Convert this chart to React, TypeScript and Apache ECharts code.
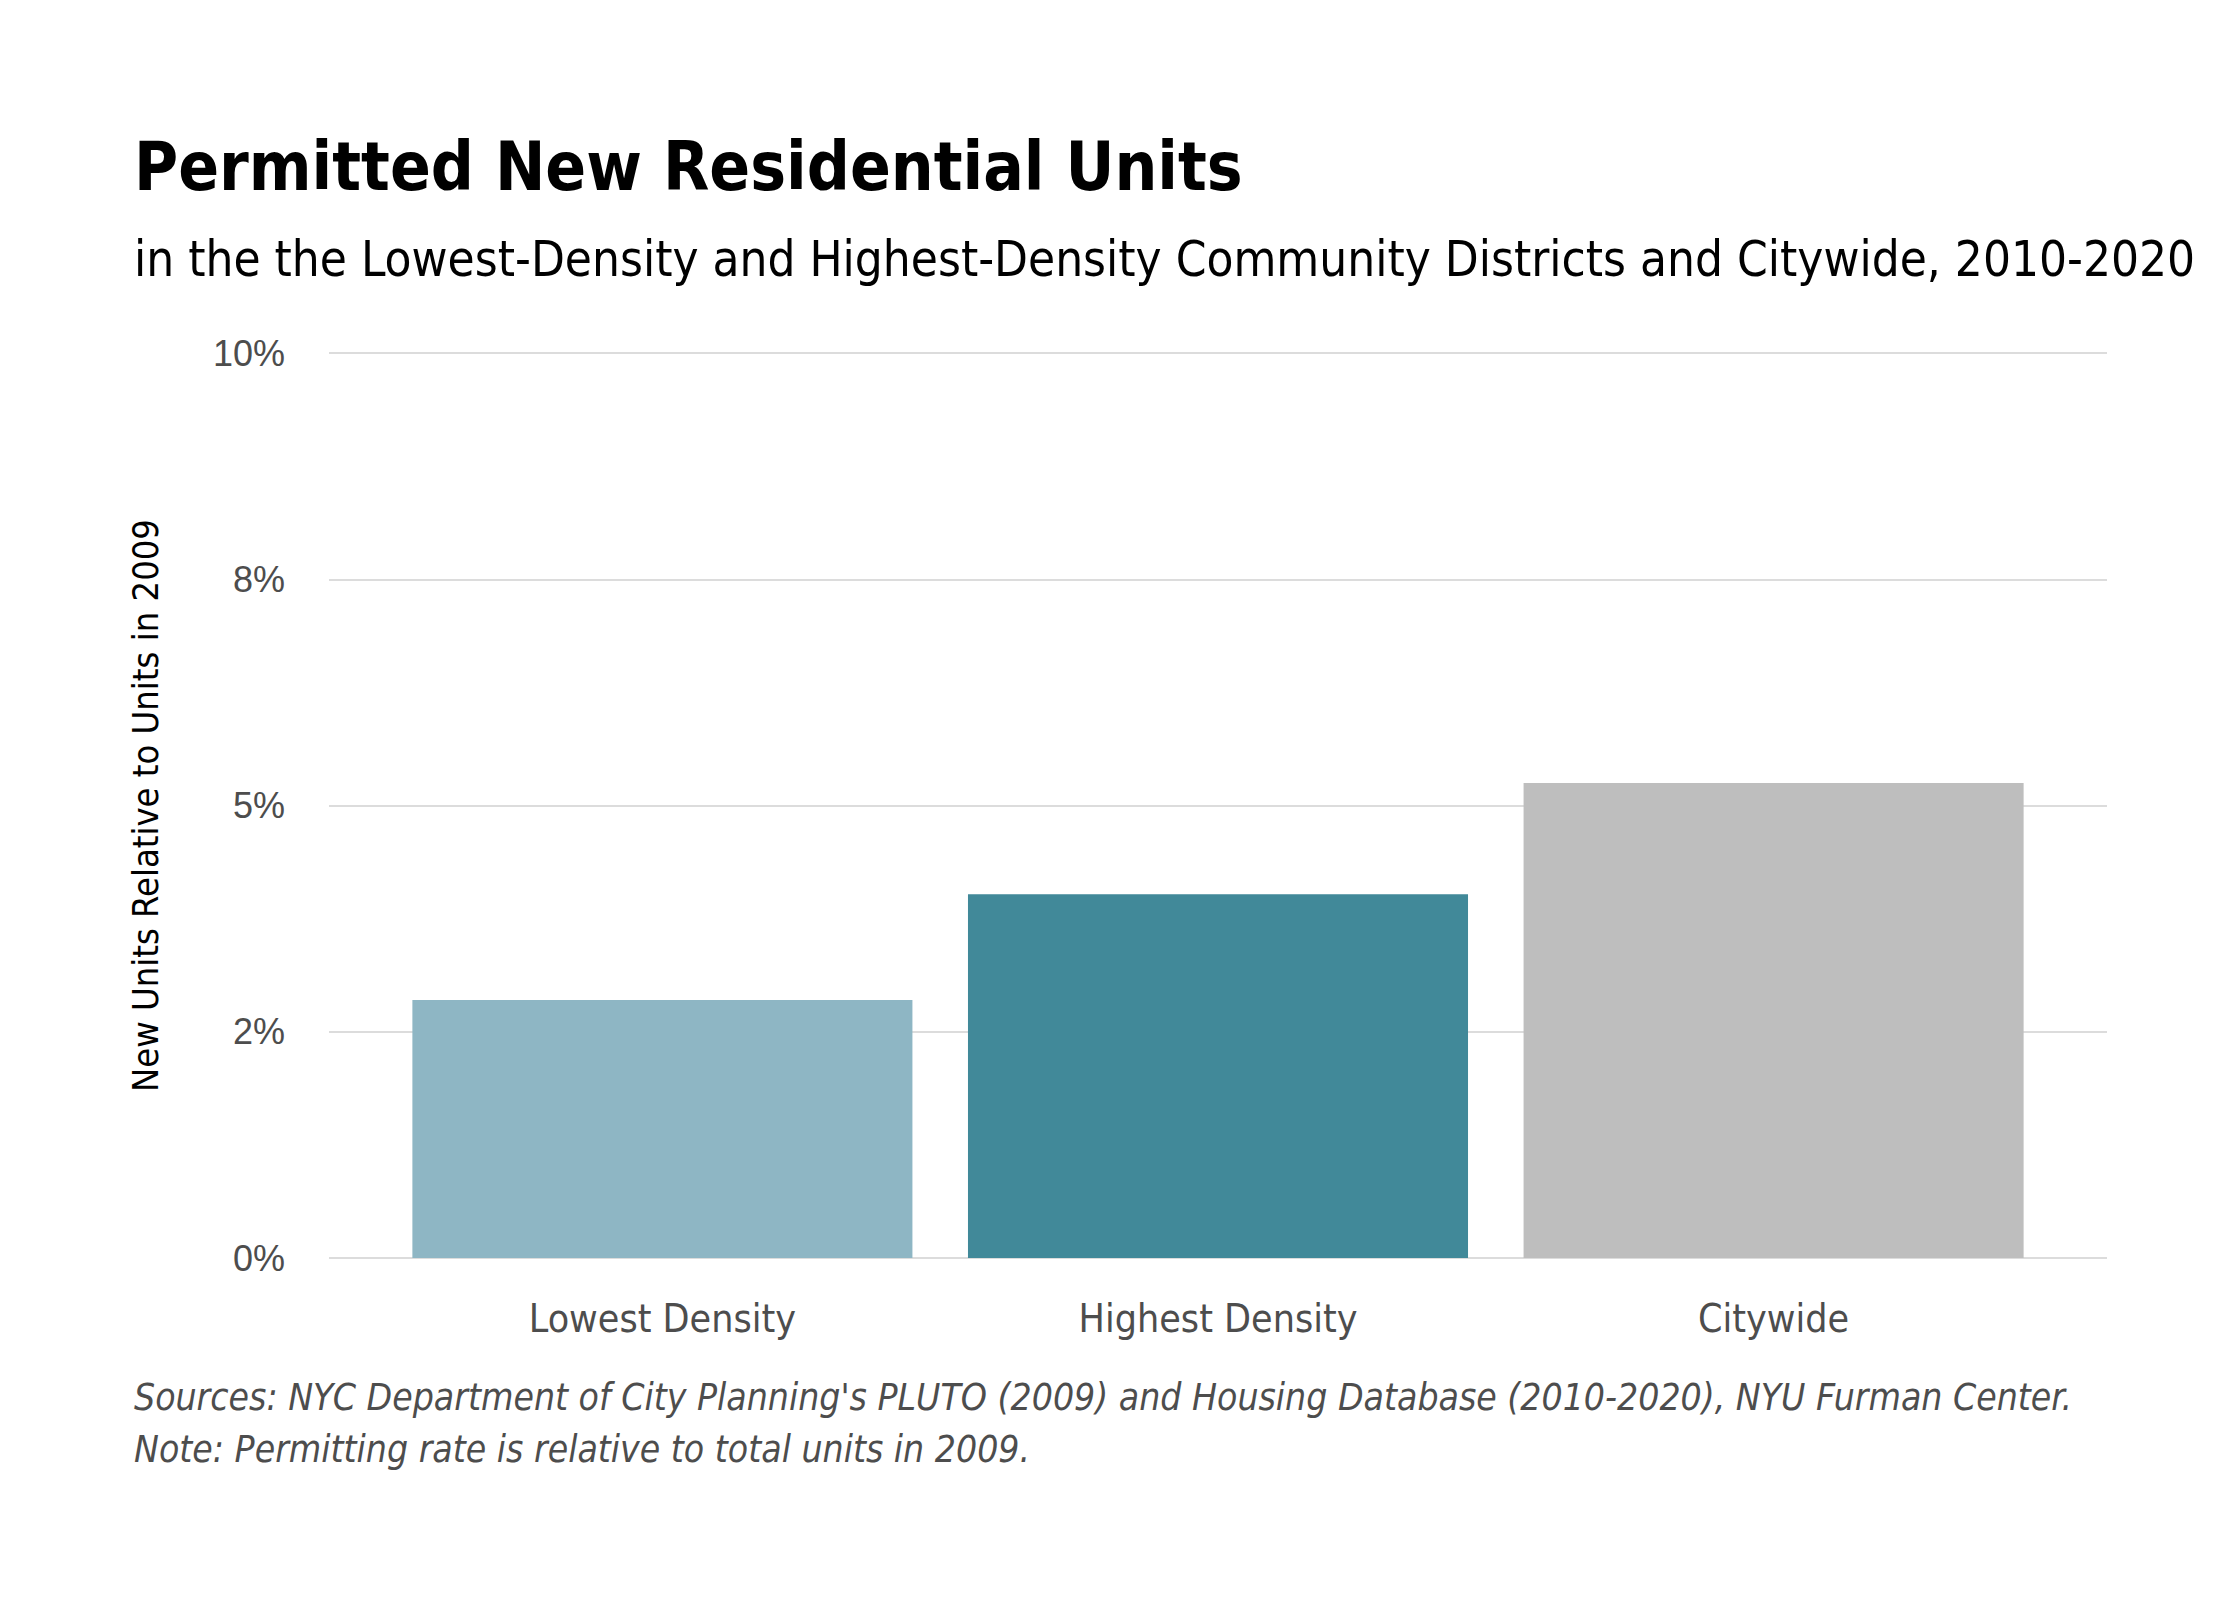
import * as echarts from 'echarts';
import { useEffect, useRef } from 'react';

const categories = ['Lowest Density', 'Highest Density', 'Citywide'];
const values = [2.85, 4.02, 5.25];
const barColors = ['#8eb6c4', '#418999', '#bebebe'];
const tickLabels = ['0%', '2%', '5%', '8%', '10%'];

const NARROW = "'Liberation Sans Narrow', 'DejaVu Sans Condensed', 'Roboto', sans-serif";
const WIDE = "'Liberation Sans', 'Roboto', sans-serif";

export default function App() {
  const chartRef = useRef<HTMLDivElement>(null);

  useEffect(() => {
    if (!chartRef.current) return;
    document.body.style.margin = '0';
    const chart = echarts.init(chartRef.current, null, { renderer: 'svg' });

    chart.setOption({
      animation: false,
      backgroundColor: '#ffffff',
      title: [
        {
          text: 'Permitted New Residential Units',
          left: 134,
          top: 133,
          padding: 0,
          textStyle: { fontFamily: NARROW, fontWeight: 'bold', fontSize: 67, color: '#000000' },
        },
        {
          text: 'in the the Lowest-Density and Highest-Density Community Districts and Citywide, 2010-2020',
          left: 134,
          top: 235,
          padding: 0,
          textStyle: { fontFamily: NARROW, fontWeight: 'normal', fontSize: 49, color: '#000000' },
        },
      ],
      grid: [
        { left: 329, right: 133, top: 353, bottom: 342 },
        { left: 384.6, right: 188.6, top: 353, bottom: 342 },
      ],
      xAxis: [
        { type: 'value', gridIndex: 0, min: 0, max: 1, show: false },
        {
          type: 'category',
          gridIndex: 1,
          data: categories,
          axisLine: { show: false },
          axisTick: { show: false },
          axisLabel: { fontFamily: NARROW, fontSize: 39, color: '#4d4d4d', margin: 41 },
        },
      ],
      yAxis: [
        {
          type: 'value',
          gridIndex: 0,
          min: 0,
          max: 10,
          interval: 2.5,
          name: 'New Units Relative to Units in 2009',
          nameLocation: 'middle',
          nameRotate: 90,
          nameGap: 166,
          nameTextStyle: { fontFamily: NARROW, fontSize: 36, color: '#000000' },
          axisLine: { show: false },
          axisTick: { show: false },
          axisLabel: {
            fontFamily: WIDE,
            fontSize: 36,
            color: '#4d4d4d',
            margin: 44,
            formatter: (v: number) => tickLabels[Math.round(v / 2.5)] ?? '',
          },
          splitLine: { lineStyle: { color: '#dcdcdc', width: 2 } },
        },
        { type: 'value', gridIndex: 1, min: 0, max: 10, show: false },
      ],
      series: [
        {
          type: 'bar',
          xAxisIndex: 1,
          yAxisIndex: 1,
          barWidth: '90%',
          data: values.map((v, i) => ({ value: v, itemStyle: { color: barColors[i] } })),
        },
      ],
      graphic: [
        {
          type: 'text',
          left: 134,
          top: 1379,
          style: {
            text: "Sources: NYC Department of City Planning's PLUTO (2009) and Housing Database (2010-2020), NYU Furman Center.",
            fontFamily: NARROW,
            fontStyle: 'italic',
            fontSize: 37,
            fill: '#4d4d4d',
          },
        },
        {
          type: 'text',
          left: 134,
          top: 1431,
          style: {
            text: 'Note: Permitting rate is relative to total units in 2009.',
            fontFamily: NARROW,
            fontStyle: 'italic',
            fontSize: 37,
            fill: '#4d4d4d',
          },
        },
      ],
    });

    return () => chart.dispose();
  }, []);

  return <div ref={chartRef} style={{ width: 2240, height: 1600 }} />;
}
